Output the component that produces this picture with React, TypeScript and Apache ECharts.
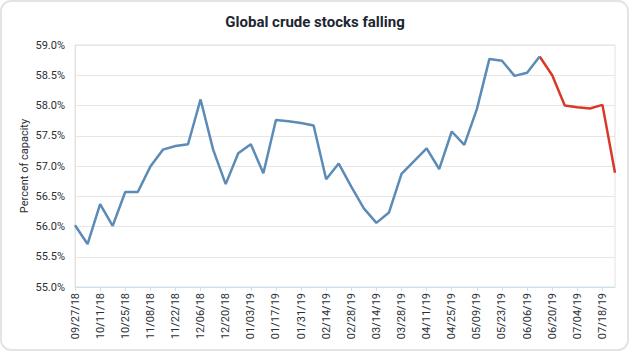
import React, { useEffect, useRef } from "react";
import * as echarts from "echarts";

const dates: string[] = [
  "09/27/18", "10/04/18", "10/11/18", "10/18/18", "10/25/18", "11/01/18", "11/08/18", "11/15/18",
  "11/22/18", "11/29/18", "12/06/18", "12/13/18", "12/20/18", "12/27/18", "01/03/19", "01/10/19",
  "01/17/19", "01/24/19", "01/31/19", "02/07/19", "02/14/19", "02/21/19", "02/28/19", "03/07/19",
  "03/14/19", "03/21/19", "03/28/19", "04/04/19", "04/11/19", "04/18/19", "04/25/19", "05/02/19",
  "05/09/19", "05/16/19", "05/23/19", "05/30/19", "06/06/19", "06/13/19", "06/20/19", "06/27/19",
  "07/04/19", "07/11/19", "07/18/19", "07/25/19",
];

const historical: (number | null)[] = [
  56.02, 55.71, 56.37, 56.01, 56.57, 56.57, 56.99, 57.27,
  57.33, 57.36, 58.1, 57.27, 56.7, 57.21, 57.36, 56.88,
  57.76, 57.74, 57.71, 57.67, 56.78, 57.04, 56.66, 56.3,
  56.06, 56.23, 56.87, 57.08, 57.29, 56.95, 57.57, 57.35,
  57.94, 58.77, 58.74, 58.49, 58.54, 58.81,
];

const recent: number[] = [58.81, 58.5, 58.0, 57.97, 57.95, 58.01, 56.89];
const recentStart = 37;

const yTicks = { min: 55, max: 59, interval: 0.5 };

export default function App() {
  const ref = useRef<HTMLDivElement>(null);
  useEffect(() => {
    if (!ref.current) return;
    const chart = echarts.init(ref.current, undefined, { renderer: "svg" });
    const blue = dates.map((_, i) => (i < historical.length ? historical[i] : null));
    const red = dates.map((_, i) => (i >= recentStart ? recent[i - recentStart] : null));
    const font = "Roboto, 'DejaVu Sans', sans-serif";
    chart.setOption({
      animation: false,
      backgroundColor: "#ffffff",
      title: {
        text: "Global crude stocks falling",
        left: "center",
        top: 9,
        textStyle: { fontFamily: font, fontSize: 15, fontWeight: "bold", color: "#1c2630" },
      },
      graphic: [
        {
          type: "rect",
          shape: { x: 1, y: 1, width: 627, height: 349, r: 10 },
          style: { fill: "none", stroke: "#e4e4e4", lineWidth: 2 },
          silent: true,
          z: -1,
        },
      ],
      grid: {
        left: 75,
        right: 15,
        top: 45,
        bottom: 65,
        show: true,
        borderColor: "#e2e2e2",
        borderWidth: 1,
      },
      xAxis: {
        type: "category",
        data: dates,
        boundaryGap: false,
        axisLine: { show: true, lineStyle: { color: "#c3e4f2", width: 1 } },
        axisTick: { show: true, interval: 1, length: 4, lineStyle: { color: "#c3e4f2" } },
        axisLabel: {
          interval: 1,
          rotate: 90,
          fontFamily: font,
          fontSize: 11,
          color: "#2a2f36",
          margin: 6,
        },
        splitLine: { show: false },
      },
      yAxis: {
        type: "value",
        min: yTicks.min,
        max: yTicks.max,
        interval: yTicks.interval,
        name: "Percent of capacity",
        nameLocation: "middle",
        nameGap: 45,
        nameMoveOverlap: false,
        nameTextStyle: { fontFamily: font, fontSize: 11, color: "#2a2f36" },
        axisLine: { show: true, lineStyle: { color: "#e2e2e2" } },
        axisTick: { show: false },
        axisLabel: {
          fontFamily: font,
          fontSize: 11,
          color: "#2a2f36",
          margin: 10,
          formatter: (v: number) => v.toFixed(1) + "%",
        },
        splitLine: { show: true, lineStyle: { color: "#e6e6e6", width: 1 } },
      },
      series: [
        {
          type: "line",
          data: blue,
          showSymbol: false,
          symbol: "none",
          lineStyle: { color: "#5b8bb6", width: 2.5 },
          itemStyle: { color: "#5b8bb6" },
          connectNulls: false,
          z: 3,
        },
        {
          type: "line",
          data: red,
          showSymbol: false,
          symbol: "none",
          lineStyle: { color: "#d8392b", width: 2.5 },
          itemStyle: { color: "#d8392b" },
          connectNulls: false,
          z: 2,
        },
      ],
    });
    return () => chart.dispose();
  }, []);
  return <div ref={ref} style={{ width: 630, height: 352, position: "fixed", left: 0, top: 0 }} />;
}
